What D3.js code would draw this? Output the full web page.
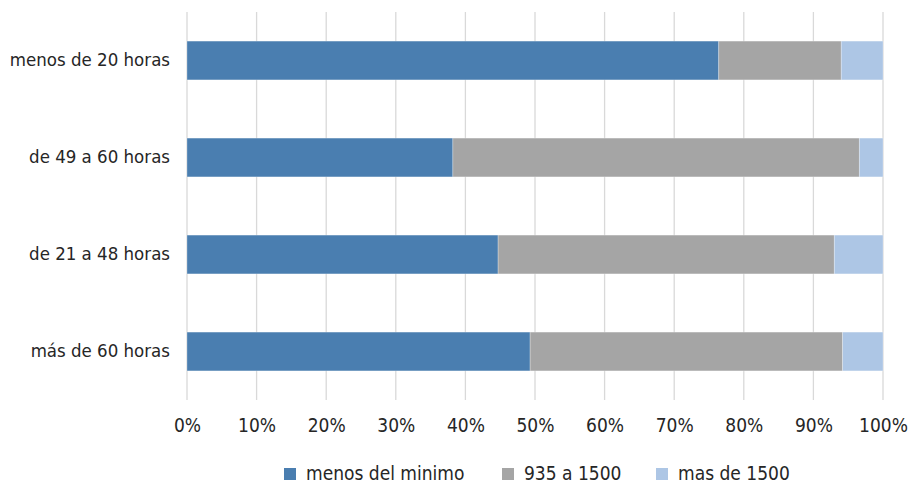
<!DOCTYPE html>
<html>
<head>
<meta charset="utf-8">
<script src="https://cdn.jsdelivr.net/npm/d3@7"></script>
<style>
  html, body { margin: 0; padding: 0; background: #fff; }
  svg text { font-family: "DejaVu Sans Condensed", "DejaVu Sans", sans-serif; font-stretch: condensed; fill: #262626; }
</style>
</head>
<body>
<svg id="chart" width="910" height="484"></svg>
<script>
// Working-hour groups, top to bottom
const categories = ["menos de 20 horas", "de 49 a 60 horas", "de 21 a 48 horas", "más de 60 horas"];
// Income bands (stack order, left to right)
const seriesNames = ["menos del minimo", "935 a 1500", "mas de 1500"];
// Share of each band per group, in percent
const menosDelMinimo = [76.4, 38.2, 44.7, 49.3];
const de935a1500     = [17.6, 58.4, 48.3, 44.9];
const masDe1500      = [6.0, 3.4, 7.0, 5.8];
const tickValues = [0, 10, 20, 30, 40, 50, 60, 70, 80, 90, 100];

const colors = ["#4a7eb0", "#a5a5a5", "#adc6e5"];

const rows = categories.map((c, i) => ({
  cat: c,
  "menos del minimo": menosDelMinimo[i],
  "935 a 1500": de935a1500[i],
  "mas de 1500": masDe1500[i]
}));

const svg = d3.select("#chart");
const plotLeft = 187, plotRight = 883, plotTop = 12, plotBottom = 400;

const x = d3.scaleLinear().domain([0, 100]).range([plotLeft, plotRight]);
const y = d3.scaleBand().domain(categories).range([plotTop, plotBottom]).paddingInner(0.6).paddingOuter(0.3);
const color = d3.scaleOrdinal().domain(seriesNames).range(colors);

// Vertical gridlines
svg.append("g")
  .selectAll("line")
  .data(tickValues)
  .join("line")
  .attr("x1", d => x(d)).attr("x2", d => x(d))
  .attr("y1", plotTop).attr("y2", plotBottom)
  .attr("stroke", "#d9d9d9")
  .attr("stroke-width", 1.3);

// Stacked bars
const stacked = d3.stack().keys(seriesNames)(rows);
svg.append("g")
  .selectAll("g")
  .data(stacked)
  .join("g")
  .attr("fill", d => color(d.key))
  .selectAll("rect")
  .data(d => d)
  .join("rect")
  .attr("x", d => x(d[0]))
  .attr("width", d => x(d[1]) - x(d[0]))
  .attr("y", d => y(d.data.cat))
  .attr("height", y.bandwidth())
  .attr("stroke", "#ffffff")
  .attr("stroke-opacity", 0.35)
  .attr("stroke-width", 0.8);

// X axis labels
const xAxis = d3.axisBottom(x)
  .tickValues(tickValues)
  .tickFormat(d => d + "%")
  .tickSize(0)
  .tickPadding(0);
const gx = svg.append("g")
  .attr("transform", `translate(0, ${plotBottom + 19})`)
  .call(xAxis);
gx.select(".domain").remove();
gx.selectAll("text")
  .style("font-size", "19px")
  .attr("dy", "0.7em");

// Y axis labels
const yAxis = d3.axisLeft(y).tickSize(0).tickPadding(17);
const gy = svg.append("g")
  .attr("transform", `translate(${plotLeft}, 0)`)
  .call(yAxis);
gy.select(".domain").remove();
gy.selectAll("text").style("font-size", "18.5px");

// Legend
const legendX = [284, 502, 656];
const legend = svg.append("g")
  .selectAll("g")
  .data(seriesNames)
  .join("g")
  .attr("transform", (d, i) => `translate(${legendX[i]}, 468)`);
legend.append("rect")
  .attr("width", 12).attr("height", 12)
  .attr("fill", d => color(d));
legend.append("text")
  .attr("x", 22)
  .attr("y", 12)
  .style("font-size", "19px")
  .text(d => d);
</script>
</body>
</html>
